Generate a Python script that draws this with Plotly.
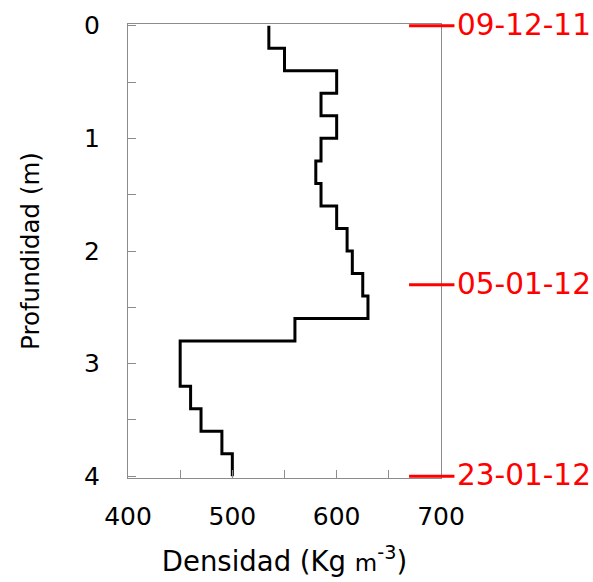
import plotly.graph_objects as go

# Layer tops (m) and density (kg m-3) of each 0.2 m layer
depth_top = [0.0, 0.2, 0.4, 0.6, 0.8, 1.0, 1.2, 1.4, 1.6, 1.8,
             2.0, 2.2, 2.4, 2.6, 2.8, 3.0, 3.2, 3.4, 3.6, 3.8]
density = [535, 550, 600, 585, 600, 585, 580, 585, 600, 610,
           615, 625, 630, 560, 450, 450, 460, 470, 490, 500]
bottom_depth = 4.0

# Survey dates marked at depths
mark_depths = [0.0, 2.3, 4.0]
mark_labels = ["09-12-11", "05-01-12", "23-01-12"]

x_ticks = [400, 500, 600, 700]
y_ticks = [0, 1, 2, 3, 4]

ys = depth_top + [bottom_depth]
xs = density + [density[-1]]

FONT = "DejaVu Sans"
GRAY = "#8c8c8c"

fig = go.Figure()
fig.add_trace(go.Scatter(
    x=xs, y=ys, mode="lines", line=dict(color="black", width=3, shape="vh"),
    showlegend=False, hoverinfo="skip"))

shapes = []
annotations = []
for d, lab in zip(mark_depths, mark_labels):
    shapes.append(dict(type="line", xref="paper", yref="y", x0=0.898, x1=1.043,
                       y0=d, y1=d, line=dict(color="#ff0000", width=3), layer="above"))
    annotations.append(dict(xref="paper", yref="y", x=1.043, y=d, text=lab,
                            showarrow=False, xanchor="left", yanchor="middle",
                            xshift=1, yshift=1,
                            font=dict(family=FONT, size=29.5, color="#ff0000")))

fig.update_layout(
    width=593, height=582,
    margin=dict(l=128, r=152, t=24, b=104, autoexpand=False),
    paper_bgcolor="white", plot_bgcolor="white",
    font=dict(family=FONT, color="black"),
    shapes=shapes, annotations=annotations,
    xaxis=dict(range=[400, 700], tickvals=x_ticks, ticks="inside", ticklen=8,
               tickcolor=GRAY, showline=True, linecolor=GRAY, linewidth=1, mirror=True,
               showgrid=False, zeroline=False, tickfont=dict(size=25),
               ticklabelstandoff=16, automargin=False,
               minor=dict(dtick=50, ticks="inside", ticklen=8, tickcolor=GRAY, showgrid=False),
               title=dict(text="Densidad (Kg <span style='font-size:23px'>m</span><sup>-3</sup>)",
                          font=dict(size=27.5), standoff=21)),
    yaxis=dict(range=[4.015, -0.015], tickvals=y_ticks, ticks="inside", ticklen=8,
               tickcolor=GRAY, showline=True, linecolor=GRAY, linewidth=1, mirror=True,
               showgrid=False, zeroline=False, tickfont=dict(size=25),
               ticklabelstandoff=22, automargin=False,
               minor=dict(dtick=0.5, ticks="inside", ticklen=8, tickcolor=GRAY, showgrid=False),
               title=dict(text="Profundidad (m)", font=dict(size=24.5), standoff=37)),
)

# remove the default 8px page margin so the figure fills the window exactly
fig.write_html("out.html", config={"displayModeBar": False},
               post_script="document.body.style.margin='0';")
